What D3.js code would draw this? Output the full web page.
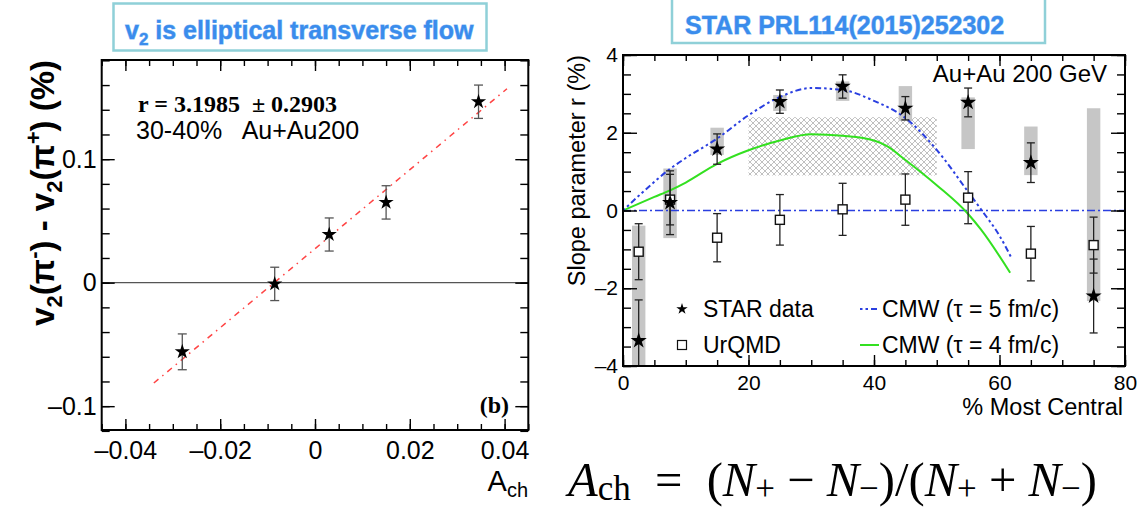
<!DOCTYPE html>
<html><head><meta charset="utf-8">
<script src="https://cdn.jsdelivr.net/npm/d3@7"></script>
<style>
body{margin:0;background:#fff}
svg{display:block}
</style>
</head><body>
<svg id="c" width="1140" height="510" font-family="Liberation Sans, Arial, Helvetica, sans-serif"></svg>
<script>
// ---------------- data: left panel ----------------
const achX      = [-0.028, -0.0085, 0.003, 0.015, 0.0345];
const dv2Y      = [-0.056, -0.001, 0.039, 0.065, 0.1465];
const dv2Err    = [0.0145, 0.0135, 0.0134, 0.0135, 0.0135];
const fitSlope  = 3.1985;
const fitIntercept = 0.0275;
const fitRange  = [-0.034, 0.0405];
const leftXMajor = [-0.04, -0.02, 0, 0.02, 0.04];
const leftYMajor = [-0.1, 0, 0.1];

// ---------------- data: right panel ----------------
const centrality = [2.5, 7.5, 15, 25, 35, 45, 55, 65, 75];
const starR      = [-3.35, 0.2, 1.58, 2.80, 3.19, 2.63, 2.78, 1.23, -2.2];
const starErr    = [1.05, 0.82, 0.39, 0.30, 0.30, 0.30, 0.37, 0.51, 0.95];
const sysLo      = [-4.5, -0.71, 1.43, 2.56, 2.82, 2.30, 1.58, 0.91, -2.33];
const sysHi      = [-0.39, 1.08, 2.13, 2.97, 3.32, 3.20, 2.91, 2.16, 2.63];
const urqmdR     = [-1.06, 0.28, -0.70, -0.24, 0.03, 0.28, 0.33, -1.11, -0.89];
const urqmdErr   = [0.72, 0.65, 0.62, 0.65, 0.67, 0.66, 0.67, 0.70, 0.72];
const cmw5X = [0, 3, 7.5, 10, 15, 20, 25, 30, 35, 40, 45, 50, 55, 57, 60, 62];
const cmw5Y = [0, 0.45, 1.07, 1.35, 1.85, 2.45, 2.92, 3.15, 3.1, 2.82, 2.38, 1.56, 0.48, 0.04, -0.65, -1.25];
const cmw4X = [0, 5, 7.5, 10, 15, 20, 25, 30, 35, 40, 42, 45, 50, 55, 57, 61.7];
const cmw4Y = [0, 0.35, 0.52, 0.72, 1.2, 1.55, 1.8, 1.96, 1.92, 1.8, 1.66, 1.3, 0.65, -0.09, -0.48, -1.6];
const hatchX = [20, 50];
const hatchY = [0.9, 2.4];
const rightXMajor = [0, 20, 40, 60, 80];
const rightYMajor = [-4, -2, 0, 2, 4];

const SANS = "Liberation Sans, Arial, Helvetica, sans-serif";
const SERIF = "Liberation Serif, Times New Roman, Times, serif";

const svg = d3.select("#c");
svg.append("rect").attr("width",1140).attr("height",510).attr("fill","#fff");
const defs = svg.append("defs");

const minusFmt = d => (d < 0 ? "\u2013" + String(Math.abs(d)) : String(d));
function range(a, b, s){ const out=[]; for(let v=a; v<=b+1e-9; v+=s) out.push(+v.toFixed(6)); return out; }

function drawAxes(g, x, y, o){
  const [x0,x1] = x.range(), [y0,y1] = y.range();
  const styleAxis = sel => { sel.select(".domain").remove(); sel.selectAll("line").attr("stroke","#000").attr("stroke-width",1.4); };
  g.append("g").attr("transform",`translate(0,${y0})`)
    .call(d3.axisBottom(x).tickValues(o.xMin).tickSize(-o.xMinLen).tickFormat("")).call(styleAxis);
  const bx = g.append("g").attr("transform",`translate(0,${y0})`)
    .call(d3.axisBottom(x).tickValues(o.xMaj).tickSize(-o.xMajLen).tickPadding(o.xPad).tickFormat(minusFmt)).call(styleAxis);
  bx.attr("font-family",SANS).attr("font-size",o.xFont);
  bx.selectAll("text").attr("fill","#000");
  g.append("g").attr("transform",`translate(0,${y1})`)
    .call(d3.axisTop(x).tickValues(o.xMin).tickSize(-o.xMinLen).tickFormat("")).call(styleAxis);
  g.append("g").attr("transform",`translate(0,${y1})`)
    .call(d3.axisTop(x).tickValues(o.xMaj).tickSize(-o.xMajLen).tickFormat("")).call(styleAxis);
  g.append("g").attr("transform",`translate(${x0},0)`)
    .call(d3.axisLeft(y).tickValues(o.yMin).tickSize(-o.yMinLen).tickFormat("")).call(styleAxis);
  const ly = g.append("g").attr("transform",`translate(${x0},0)`)
    .call(d3.axisLeft(y).tickValues(o.yMaj).tickSize(-o.yMajLen).tickPadding(o.yPad).tickFormat(minusFmt)).call(styleAxis);
  ly.attr("font-family",SANS).attr("font-size",o.yFont);
  ly.selectAll("text").attr("fill","#000");
  g.append("g").attr("transform",`translate(${x1},0)`)
    .call(d3.axisRight(y).tickValues(o.yMin).tickSize(-o.yMinLen).tickFormat("")).call(styleAxis);
  g.append("g").attr("transform",`translate(${x1},0)`)
    .call(d3.axisRight(y).tickValues(o.yMaj).tickSize(-o.yMajLen).tickFormat("")).call(styleAxis);
  g.append("rect").attr("x",x0).attr("y",y1).attr("width",x1-x0).attr("height",y0-y1)
    .attr("fill","none").attr("stroke","#000").attr("stroke-width",2);
}

const starPath = r => d3.symbol().type(d3.symbolStar).size(r*r/0.8908130915292852)();

// ================= LEFT PANEL =================
const xL = d3.scaleLinear().domain([-0.045, 0.045]).range([101.7, 528.3]);
const yL = d3.scaleLinear().domain([-0.1193, 0.1803]).range([430, 60]);
const gL = svg.append("g");

gL.append("line").attr("x1",xL.range()[0]).attr("x2",xL.range()[1]).attr("y1",yL(0)).attr("y2",yL(0))
  .attr("stroke","#555").attr("stroke-width",1.4);
gL.append("line")
  .attr("x1",xL(fitRange[0])).attr("y1",yL(fitSlope*fitRange[0]+fitIntercept))
  .attr("x2",xL(fitRange[1])).attr("y2",yL(fitSlope*fitRange[1]+fitIntercept))
  .attr("stroke","#ff4444").attr("stroke-width",1.5).attr("stroke-dasharray","6,5,1.5,5");
const eL = gL.append("g").attr("stroke","#555").attr("stroke-width",1.3);
achX.forEach((xv,i)=>{
  const cx=xL(xv), t=yL(dv2Y[i]+dv2Err[i]), b=yL(dv2Y[i]-dv2Err[i]);
  eL.append("line").attr("x1",cx).attr("x2",cx).attr("y1",t).attr("y2",b);
  eL.append("line").attr("x1",cx-4.5).attr("x2",cx+4.5).attr("y1",t).attr("y2",t);
  eL.append("line").attr("x1",cx-4.5).attr("x2",cx+4.5).attr("y1",b).attr("y2",b);
});
gL.selectAll(".st").data(achX).join("path")
  .attr("d",starPath(8)).attr("fill","#000")
  .attr("transform",(d,i)=>`translate(${xL(d)},${yL(dv2Y[i])})`);

drawAxes(gL, xL, yL, {
  xMaj:leftXMajor, xMin:range(-0.045,0.045,0.005), xMajLen:11, xMinLen:6, xPad:11, xFont:25,
  yMaj:leftYMajor, yMin:range(-0.12,0.18,0.02), yMajLen:13, yMinLen:8, yPad:5, yFont:25
});

gL.append("text").attr("x",138).attr("y",111.5).attr("font-family",SERIF)
  .attr("font-weight","bold").attr("font-size",24).style("white-space","pre")
  .text("r = 3.1985  \u00b1 0.2903");
gL.append("text").attr("x",136).attr("y",138.5).attr("font-size",25).style("white-space","pre")
  .text("30-40%   Au+Au200");
gL.append("text").attr("x",509).attr("y",413).attr("text-anchor","end")
  .attr("font-family",SERIF).attr("font-weight","bold").attr("font-size",24)
  .text("(b)");
const axT = gL.append("text").attr("x",528).attr("y",491).attr("text-anchor","end").attr("font-size",29);
axT.append("tspan").text("A");
axT.append("tspan").attr("font-size",20).attr("dy",6).text("ch");
const ayT = gL.append("text").attr("transform","translate(54,60) rotate(-90)").attr("text-anchor","end")
  .attr("font-size",33).attr("font-weight","bold");
ayT.append("tspan").text("v");
ayT.append("tspan").attr("font-size",22).attr("dy",8).text("2");
ayT.append("tspan").attr("dy",-8).text("(\u03c0");
ayT.append("tspan").attr("font-size",22).attr("dy",-13).text("-");
ayT.append("tspan").attr("dy",13).text(") - v");
ayT.append("tspan").attr("font-size",22).attr("dy",8).text("2");
ayT.append("tspan").attr("dy",-8).text("(\u03c0");
ayT.append("tspan").attr("font-size",22).attr("dy",-13).text("+");
ayT.append("tspan").attr("dy",13).text(") (%)");

// ================= RIGHT PANEL =================
const xR = d3.scaleLinear().domain([0, 80]).range([623, 1125]);
const yR = d3.scaleLinear().domain([-4, 4]).range([366, 55]);
const gR = svg.append("g");
defs.append("clipPath").attr("id","clipR").append("rect")
  .attr("x",623).attr("y",55).attr("width",502).attr("height",311);
const hp = defs.append("pattern").attr("id","hatch").attr("patternUnits","userSpaceOnUse")
  .attr("width",6).attr("height",6);
hp.append("path").attr("d","M0,0L6,6M6,0L0,6M-1,5L1,7M5,-1L7,1M-1,1L1,-1M5,7L7,5")
  .attr("stroke","#b0b0b0").attr("stroke-width",0.8).attr("fill","none");

const cR = gR.append("g").attr("clip-path","url(#clipR)");
cR.append("rect").attr("x",xR(hatchX[0])).attr("width",xR(hatchX[1])-xR(hatchX[0]))
  .attr("y",yR(hatchY[1])).attr("height",yR(hatchY[0])-yR(hatchY[1])).attr("fill","url(#hatch)");
cR.selectAll(".sys").data(centrality).join("rect")
  .attr("x",d=>xR(d-1.07)).attr("width",d=>xR(d+1.07)-xR(d-1.07))
  .attr("y",(d,i)=>yR(sysHi[i])).attr("height",(d,i)=>yR(sysLo[i])-yR(sysHi[i]))
  .attr("fill","#c6c6c6");
cR.append("line").attr("x1",xR(0)).attr("x2",xR(80)).attr("y1",yR(0)).attr("y2",yR(0))
  .attr("stroke","#2a3fe0").attr("stroke-width",1.3).attr("stroke-dasharray","8,3,2,3");
const lineGen = (xs) => d3.line().x((d,i)=>xR(xs[i])).y(d=>yR(d)).curve(d3.curveMonotoneX);
cR.append("path").attr("d",lineGen(cmw4X)(cmw4Y)).attr("fill","none").attr("stroke","#33e020").attr("stroke-width",2);
cR.append("path").attr("d",lineGen(cmw5X)(cmw5Y)).attr("fill","none").attr("stroke","#2a3fe0")
  .attr("stroke-width",2).attr("stroke-dasharray","2.5,3,2.5,3,6,3");
const eR = cR.append("g").attr("stroke","#222").attr("stroke-width",1.3);
function ebar(cx, v, e){
  const t=yR(v+e), b=yR(v-e);
  eR.append("line").attr("x1",cx).attr("x2",cx).attr("y1",t).attr("y2",b);
  eR.append("line").attr("x1",cx-4).attr("x2",cx+4).attr("y1",t).attr("y2",t);
  eR.append("line").attr("x1",cx-4).attr("x2",cx+4).attr("y1",b).attr("y2",b);
}
centrality.forEach((c,i)=>{ ebar(xR(c), urqmdR[i], urqmdErr[i]); ebar(xR(c), starR[i], starErr[i]); });
cR.selectAll(".sq").data(centrality).join("rect")
  .attr("x",d=>xR(d)-4.5).attr("y",(d,i)=>yR(urqmdR[i])-4.5).attr("width",9).attr("height",9)
  .attr("fill","#fff").attr("stroke","#111").attr("stroke-width",1.4);
cR.selectAll(".st").data(centrality).join("path")
  .attr("d",starPath(8.5)).attr("fill","#000")
  .attr("transform",(d,i)=>`translate(${xR(d)},${yR(starR[i])})`);

drawAxes(gR, xR, yR, {
  xMaj:rightXMajor, xMin:range(0,80,5), xMajLen:11, xMinLen:6, xPad:9, xFont:21,
  yMaj:rightYMajor, yMin:range(-4,4,0.5), yMajLen:14, yMinLen:8, yPad:5, yFont:21
});

gR.append("text").attr("x",1107).attr("y",82).attr("text-anchor","end").attr("font-size",24).text("Au+Au 200 GeV");
gR.append("text").attr("x",1123).attr("y",415).attr("text-anchor","end").attr("font-size",23.5).text("% Most Central");
gR.append("text").attr("transform","translate(585,55) rotate(-90)").attr("text-anchor","end")
  .attr("font-size",23.5).text("Slope parameter r (%)");

const lg = gR.append("g");
lg.append("path").attr("d",starPath(6)).attr("transform","translate(682,309)").attr("fill","#000");
lg.append("text").attr("x",703).attr("y",317).attr("font-size",23).text("STAR data");
lg.append("rect").attr("x",677.5).attr("y",340.5).attr("width",9).attr("height",9).attr("fill","#fff").attr("stroke","#111").attr("stroke-width",1.2);
lg.append("text").attr("x",703).attr("y",353).attr("font-size",23).text("UrQMD");
lg.append("line").attr("x1",860).attr("x2",879).attr("y1",309).attr("y2",309).attr("stroke","#2a3fe0")
  .attr("stroke-width",2).attr("stroke-dasharray","2.5,3,2.5,3,6,3");
lg.append("text").attr("x",882).attr("y",317).attr("font-size",23).text("CMW (\u03c4 = 5 fm/c)");
lg.append("line").attr("x1",860).attr("x2",879).attr("y1",345).attr("y2",345).attr("stroke","#33e020").attr("stroke-width",2);
lg.append("text").attr("x",882).attr("y",353).attr("font-size",23).text("CMW (\u03c4 = 4 fm/c)");

// ================= top note boxes =================
function noteBox(x, y, w, h){
  svg.append("rect").attr("x",x).attr("y",y).attr("width",w).attr("height",h)
    .attr("fill","#fff").attr("stroke","#8fd0d8").attr("stroke-width",2.5);
}
noteBox(113.5, 3.5, 373, 47);
const n1 = svg.append("text").attr("x",125).attr("y",39).attr("font-size",25).attr("font-weight","bold")
  .attr("fill","#3a8cec").attr("stroke","#86bdf5").attr("stroke-width",0.8).attr("paint-order","stroke");
n1.append("tspan").text("v");
n1.append("tspan").attr("font-size",17).attr("dy",6).text("2");
n1.append("tspan").attr("dy",-6).text(" is elliptical transverse flow");
noteBox(672, -5, 373, 48);
svg.append("text").attr("x",685).attr("y",34).attr("font-size",25).attr("font-weight","bold")
  .attr("fill","#3a8cec").attr("stroke","#86bdf5").attr("stroke-width",0.8).attr("paint-order","stroke")
  .text("STAR PRL114(2015)252302");

// ================= formula =================
const fm = svg.append("text").attr("x",568).attr("y",496)
  .attr("font-family",SERIF).attr("font-size",40).style("white-space","pre");
const parts = [
  ["A","italic",0],["ch","normal",3.5,0.72],["  =  (","normal",-3.5],["N","italic",0],["+","normal",3.5,0.72],
  [" \u2212 ","normal",-3.5],["N","italic",0],["\u2212","normal",3.5,0.72],[")/(","normal",-3.5],["N","italic",0],
  ["+","normal",3.5,0.72],[" + ","normal",-3.5],["N","italic",0],["\u2212","normal",3.5,0.72],[")","normal",-3.5]
];
parts.forEach(p=>{
  const t = fm.append("tspan").attr("font-style",p[1]).attr("dy",p[2]).text(p[0]);
  if(p[3]) t.attr("font-size",40*p[3]);
});
const fl = fm.node().getComputedTextLength();
const sc = 529/fl;
fm.attr("font-size",40*sc);
fm.selectAll("tspan").each(function(d,i){
  const p = parts[i];
  d3.select(this).attr("dy",p[2]*sc);
  if(p[3]) d3.select(this).attr("font-size",40*sc*p[3]);
});
</script>
</body></html>
